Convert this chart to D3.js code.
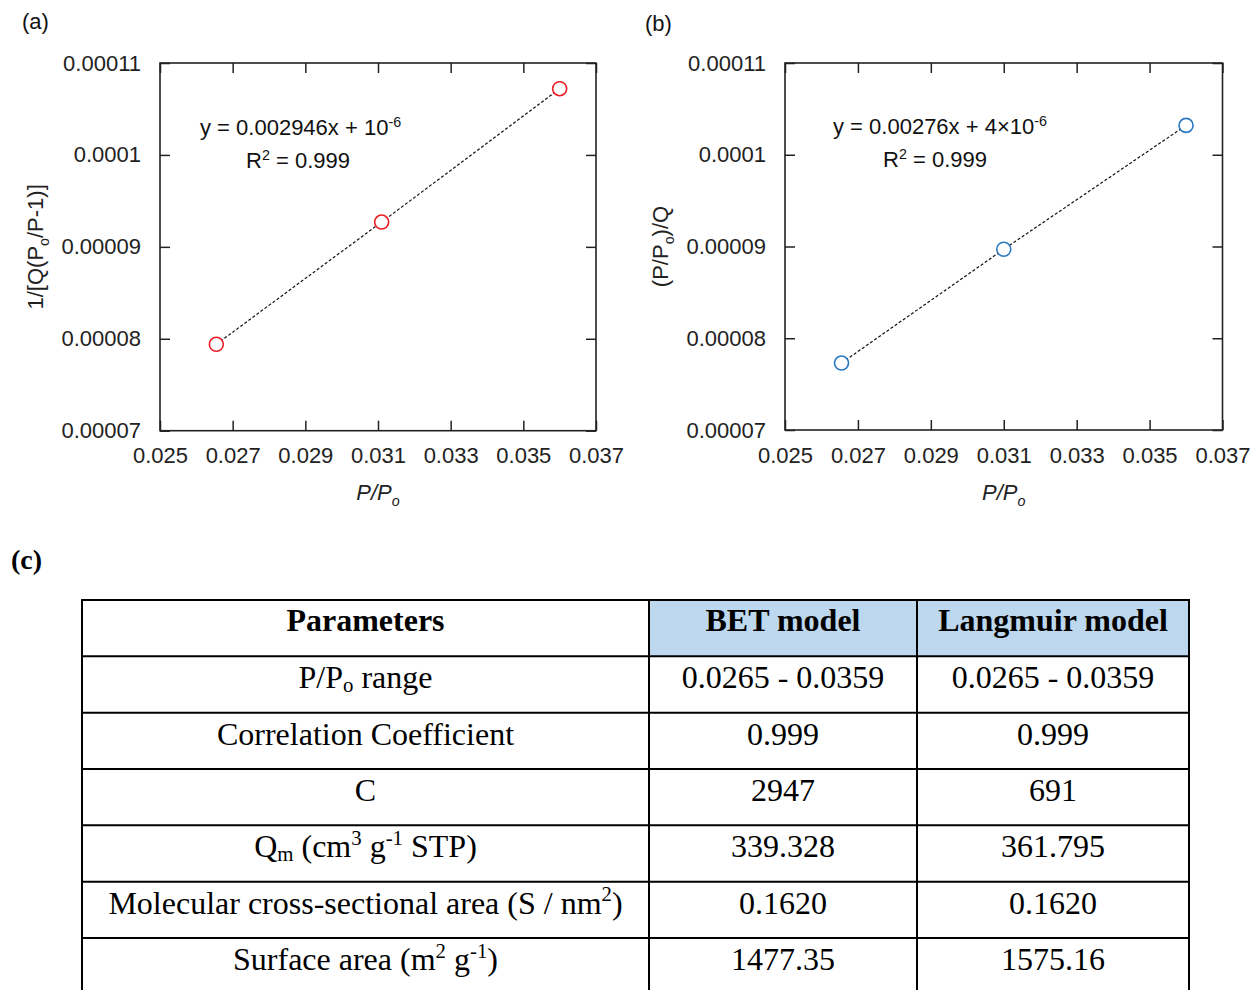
<!DOCTYPE html>
<html>
<head>
<meta charset="utf-8">
<script src="https://cdn.jsdelivr.net/npm/d3@7"></script>
<style>
  html, body { margin: 0; padding: 0; background: #fff; }
  svg { display: block; }
</style>
</head>
<body>
<svg id="chart" width="1252" height="990"></svg>
<script>
// ---------------- DATA ----------------
const xTickValues = [0.025, 0.027, 0.029, 0.031, 0.033, 0.035, 0.037];
const xTickLabels = ["0.025", "0.027", "0.029", "0.031", "0.033", "0.035", "0.037"];
const yTickValues = [0.00007, 0.00008, 0.00009, 0.0001, 0.00011];
const yTickLabels = ["0.00007", "0.00008", "0.00009", "0.0001", "0.00011"];

// (a) BET plot
const betX = [0.02655, 0.0311, 0.0360];
const betY = [0.0000794, 0.0000927, 0.0001072];
// (b) Langmuir plot
const langX = [0.02655, 0.0310, 0.0360];
const langY = [0.0000773, 0.0000897, 0.0001032];

const betEquation = [["y = 0.002946x + 10"], ["-6", "sup"]];
const langEquation = [["y = 0.00276x + 4\u00d710"], ["-6", "sup"]];
const r2Text = [["R"], ["2", "sup"], [" = 0.999"]];

const betYLabel = [["1/[Q(P"], ["o", "sub"], ["/P-1)]"]];
const langYLabel = [["(P/P"], ["o", "sub"], [")/Q"]];
const xAxisLabel = [["P/P"], ["o", "sub"]];

// (c) table
const tableHeaders = ["Parameters", "BET model", "Langmuir model"];
const tableParams = [
  [["P/P"], ["o", "sub"], [" range"]],
  [["Correlation Coefficient"]],
  [["C"]],
  [["Q"], ["m", "sub"], [" (cm"], ["3", "sup"], [" g"], ["-1", "sup"], [" STP)"]],
  [["Molecular cross-sectional area (S / nm"], ["2", "sup"], [")"]],
  [["Surface area (m"], ["2", "sup"], [" g"], ["-1", "sup"], [")"]]
];
const betValues = ["0.0265 - 0.0359", "0.999", "2947", "339.328", "0.1620", "1477.35"];
const langmuirValues = ["0.0265 - 0.0359", "0.999", "691", "361.795", "0.1620", "1575.16"];

// ---------------- HELPERS ----------------
const svg = d3.select("#chart");
const SANS = "'Liberation Sans', Arial, sans-serif";
const SERIF = "'Liberation Serif', 'Times New Roman', serif";

function richText(textSel, segments, fs, subShift) {
  let offset = 0;
  const sb = subShift === undefined ? 0.28 : subShift;
  segments.forEach(seg => {
    const [str, kind] = seg;
    let target = 0, size = fs;
    if (kind === "sup") { target = -0.38 * fs; size = 0.65 * fs; }
    if (kind === "sub") { target = sb * fs; size = 0.65 * fs; }
    textSel.append("tspan")
      .attr("dy", target - offset)
      .attr("font-size", size)
      .text(str);
    offset = target;
  });
}

function drawPanel(cfg) {
  const x = d3.scaleLinear().domain([0.025, 0.037]).range(cfg.xr);
  const y = d3.scaleLinear().domain([0.00007, 0.00011]).range(cfg.yr);
  const g = svg.append("g");
  const fs = 22;

  const styleAxis = sel => {
    sel.select(".domain").remove();
    sel.selectAll(".tick line").attr("stroke", "#222").attr("stroke-width", 1.5);
    sel.selectAll(".tick text").attr("fill", "#222").style("font-family", SANS).style("font-size", fs + "px");
  };

  g.append("g").attr("transform", `translate(0,${cfg.yr[0]})`)
    .call(d3.axisBottom(x).tickValues(xTickValues).tickFormat((d, i) => xTickLabels[i])
      .tickSizeInner(-10).tickSizeOuter(0).tickPadding(17))
    .call(styleAxis);
  g.append("g").attr("transform", `translate(0,${cfg.yr[1]})`)
    .call(d3.axisTop(x).tickValues(xTickValues).tickFormat("")
      .tickSizeInner(-10).tickSizeOuter(0))
    .call(styleAxis);
  g.append("g").attr("transform", `translate(${cfg.xr[0]},0)`)
    .call(d3.axisLeft(y).tickValues(yTickValues).tickFormat((d, i) => yTickLabels[i])
      .tickSizeInner(-10).tickSizeOuter(0).tickPadding(19))
    .call(styleAxis);
  g.append("g").attr("transform", `translate(${cfg.xr[1]},0)`)
    .call(d3.axisRight(y).tickValues(yTickValues).tickFormat("")
      .tickSizeInner(-10).tickSizeOuter(0))
    .call(styleAxis);

  g.append("rect")
    .attr("x", cfg.xr[0]).attr("y", cfg.yr[1])
    .attr("width", cfg.xr[1] - cfg.xr[0]).attr("height", cfg.yr[0] - cfg.yr[1])
    .attr("fill", "none").attr("stroke", "#222").attr("stroke-width", 1.6);

  const pts = cfg.xs.map((v, i) => [v, cfg.ys[i]]);
  g.append("path")
    .datum(pts)
    .attr("d", d3.line().x(d => x(d[0])).y(d => y(d[1])))
    .attr("fill", "none").attr("stroke", "#111").attr("stroke-width", 1.2)
    .attr("stroke-dasharray", "3,2");

  g.selectAll("circle.pt").data(pts).enter().append("circle")
    .attr("class", "pt")
    .attr("cx", d => x(d[0])).attr("cy", d => y(d[1])).attr("r", 7)
    .attr("fill", "#fff").attr("stroke", cfg.color).attr("stroke-width", 1.6);

  // equation
  const eq = g.append("text").attr("x", cfg.eqX).attr("y", cfg.eqY)
    .attr("fill", "#111").style("font-family", SANS).style("font-size", fs + "px");
  richText(eq, cfg.eq, fs);
  const r2 = g.append("text").attr("x", cfg.r2X).attr("y", cfg.eqY + 33)
    .attr("fill", "#111").style("font-family", SANS).style("font-size", fs + "px");
  richText(r2, r2Text, fs);

  // axis labels
  const xl = g.append("text").attr("x", (cfg.xr[0] + cfg.xr[1]) / 2).attr("y", 500)
    .attr("text-anchor", "middle").attr("fill", "#222")
    .style("font-family", SANS).style("font-size", fs + "px").style("font-style", "italic");
  richText(xl, xAxisLabel, fs);

  const yl = g.append("text")
    .attr("transform", `translate(${cfg.ylX},${(cfg.yr[0] + cfg.yr[1]) / 2}) rotate(-90)`)
    .attr("text-anchor", "middle").attr("fill", "#222")
    .style("font-family", SANS).style("font-size", fs + "px");
  richText(yl, cfg.ylabel, fs);

  g.append("text").attr("x", cfg.tagX).attr("y", cfg.tagY)
    .attr("fill", "#111").style("font-family", SANS).style("font-size", fs + "px")
    .text(cfg.tag);
}

drawPanel({
  xr: [160, 596], yr: [430.7, 63], xs: betX, ys: betY, color: "#ee1c24",
  eq: betEquation, eqX: 200, eqY: 135, r2X: 246,
  ylabel: betYLabel, ylX: 43, tag: "(a)", tagX: 22, tagY: 29
});
drawPanel({
  xr: [785, 1222.5], yr: [430, 63], xs: langX, ys: langY, color: "#2a78c2",
  eq: langEquation, eqX: 833, eqY: 134, r2X: 883,
  ylabel: langYLabel, ylX: 668, tag: "(b)", tagX: 645, tagY: 31
});

// ---------------- TABLE (c) ----------------
svg.append("text").attr("x", 11).attr("y", 569)
  .style("font-family", SERIF).style("font-size", "28px").style("font-weight", "bold")
  .attr("fill", "#000").text("(c)");

const colEdges = [82, 649, 917, 1189];
const nRows = tableParams.length + 1;
const rowScale = d3.scaleLinear().domain([0, nRows]).range([600, 600 + 56.33 * nRows]);
const tfs = 32;
const tg = svg.append("g");

// header fill
tg.append("rect").attr("x", colEdges[1]).attr("y", rowScale(0))
  .attr("width", colEdges[3] - colEdges[1]).attr("height", rowScale(1) - rowScale(0))
  .attr("fill", "#bdd7ee");

// grid lines
d3.range(nRows + 1).forEach(r => {
  tg.append("line").attr("x1", colEdges[0] - 1).attr("x2", colEdges[3] + 1)
    .attr("y1", rowScale(r)).attr("y2", rowScale(r))
    .attr("stroke", "#000").attr("stroke-width", 2);
});
colEdges.forEach(cx => {
  tg.append("line").attr("x1", cx).attr("x2", cx)
    .attr("y1", rowScale(0)).attr("y2", rowScale(nRows))
    .attr("stroke", "#000").attr("stroke-width", 2);
});

const colCenter = i => (colEdges[i] + colEdges[i + 1]) / 2;
tableHeaders.forEach((h, i) => {
  tg.append("text").attr("x", colCenter(i)).attr("y", rowScale(0) + 31)
    .attr("text-anchor", "middle").attr("fill", "#000")
    .style("font-family", SERIF).style("font-size", tfs + "px").style("font-weight", "bold")
    .text(h);
});
tableParams.forEach((segs, r) => {
  const t = tg.append("text").attr("x", colCenter(0)).attr("y", rowScale(r + 1) + 32)
    .attr("text-anchor", "middle").attr("fill", "#000")
    .style("font-family", SERIF).style("font-size", tfs + "px");
  richText(t, segs, tfs, 0.12);
  [betValues, langmuirValues].forEach((vals, c) => {
    tg.append("text").attr("x", colCenter(c + 1)).attr("y", rowScale(r + 1) + 32)
      .attr("text-anchor", "middle").attr("fill", "#000")
      .style("font-family", SERIF).style("font-size", tfs + "px")
      .text(vals[r]);
  });
});
</script>
</body>
</html>
